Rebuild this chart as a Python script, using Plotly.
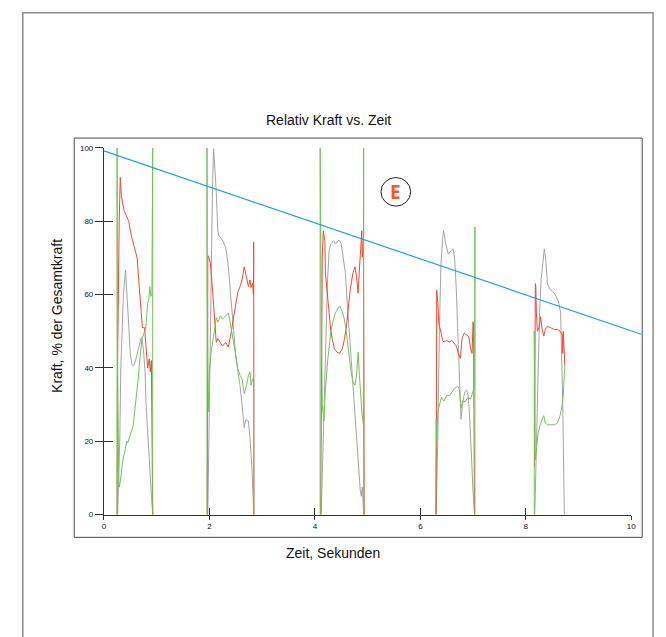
import plotly.graph_objects as go

# ---------------- data (None separates the five steps) ----------------
t_red = [0.25, 0.255, 0.29, 0.31, 0.33, 0.38, 0.44, 0.47, 0.52, 0.58, 0.63, 0.67, 0.70, 0.73, 0.77, 0.81, 0.83, 0.86, 0.88, 0.90, 0.915, 0.925, None,
         1.96, 1.965, 1.97, 1.99, 2.02, 2.06, 2.10, 2.13, 2.16, 2.21, 2.25, 2.31, 2.36, 2.40, 2.45, 2.50, 2.54, 2.58, 2.62, 2.66, 2.69, 2.74, 2.77, 2.79, 2.82, 2.835, 2.84, 2.845, None,
         4.11, 4.12, 4.14, 4.16, 4.19, 4.20, 4.24, 4.27, 4.30, 4.33, 4.37, 4.42, 4.47, 4.52, 4.56, 4.60, 4.64, 4.67, 4.72, 4.76, 4.79, 4.82, 4.84, 4.87, 4.89, 4.90, 4.92, 4.93, 4.935, None,
         6.30, 6.305, 6.31, 6.33, 6.35, 6.39, 6.42, 6.45, 6.50, 6.55, 6.60, 6.65, 6.68, 6.72, 6.76, 6.79, 6.83, 6.88, 6.92, 6.95, 6.98, 7.00, 7.01, 7.02, 7.025, None,
         8.165, 8.17, 8.18, 8.19, 8.20, 8.22, 8.25, 8.28, 8.31, 8.34, 8.37, 8.41, 8.47, 8.54, 8.60, 8.65, 8.69, 8.70, 8.71, 8.72, 8.73, 8.74]
red = [0, 36, 80, 92, 87, 83, 81, 80, 76, 73, 70, 62, 55, 51, 51, 45, 40, 42.5, 39, 42, 20, 0, None,
       0, 36, 70.7, 70, 68.5, 61.3, 54.1, 47, 48, 47, 46, 47, 45.7, 48.7, 53.2, 57.7, 60.8, 62.2, 64, 67.6, 65.8, 62.2, 64, 61.9, 63.2, 60, 74.3, 0, None,
       0, 36, 70, 77.4, 74.7, 65.8, 59.5, 55, 50.5, 47.8, 45.2, 44.3, 44, 45.2, 47.8, 51.4, 56.8, 61.3, 65.8, 67.6, 64.9, 60.4, 65.8, 72.9, 77.4, 70.2, 74.7, 40, 0, None,
       0, 40, 61.2, 58, 52, 49.8, 47.5, 47.1, 47.5, 47.1, 47.5, 46.5, 46, 44, 42.6, 48, 49.5, 49, 48.5, 45.5, 44, 52.6, 50, 18, 0, None,
       13, 25, 63, 62, 55, 50, 51, 54, 50.5, 48.7, 50.5, 51.3, 51, 50.5, 50.5, 50, 49, 44, 50, 45, 41, 40.7]

t_gray = [0.26, 0.28, 0.30, 0.32, 0.34, 0.37, 0.41, 0.44, 0.47, 0.50, 0.53, 0.56, 0.59, 0.63, 0.66, 0.70, 0.72, 0.75, 0.78, 0.80, 0.83, 0.86, 0.88, 0.91, 0.93, None,
          1.97, 1.99, 2.00, 2.03, 2.06, 2.08, 2.10, 2.13, 2.16, 2.18, 2.21, 2.25, 2.31, 2.36, 2.40, 2.45, 2.50, 2.54, 2.58, 2.62, 2.66, 2.69, 2.74, 2.77, 2.81, 2.84, None,
          4.12, 4.14, 4.17, 4.20, 4.24, 4.27, 4.30, 4.35, 4.39, 4.44, 4.47, 4.50, 4.53, 4.58, 4.61, 4.64, 4.67, 4.71, 4.75, 4.79, 4.83, 4.86, 4.88, 4.90, 4.92, 4.93, None,
          6.30, 6.33, 6.36, 6.39, 6.42, 6.44, 6.48, 6.53, 6.58, 6.62, 6.65, 6.68, 6.71, 6.74, 6.77, 6.80, 6.84, 6.88, 6.91, 6.94, 6.97, 7.00, 7.03, None,
          8.17, 8.20, 8.23, 8.26, 8.29, 8.32, 8.35, 8.38, 8.41, 8.45, 8.50, 8.56, 8.62, 8.66, 8.70, 8.73]
gray = [0, 8, 20, 40, 51, 60, 66.7, 60, 51, 44, 41, 40.5, 41.5, 43.5, 45.5, 48, 48.3, 45, 39, 30, 22.8, 14, 8.4, 3, 0, None,
        0, 20, 39, 65, 90, 99.8, 96, 88, 77.4, 76, 75.6, 74.7, 72.9, 67.6, 60.4, 51.4, 43.4, 39, 35.3, 29.9, 23.7, 25.9, 25.5, 21, 12, 0, None,
        0, 12, 29.9, 47.8, 64, 72, 73.8, 74.7, 73.8, 74.7, 74.7, 73.8, 71.1, 65.8, 58.6, 52.3, 46, 39, 29.9, 21, 12, 6.7, 5, 7.5, 1.6, 0, None,
        0, 20, 50, 68, 75, 77.5, 74, 71, 72, 72.5, 70, 62, 50, 36, 26, 30, 33.5, 34, 32, 25, 15, 6, 0, None,
        0, 20, 42, 55, 64, 69, 72.5, 69, 63, 61.5, 61, 60, 58, 55, 30, 0]

t_green = [0.25, 0.25, 0.255, 0.28, 0.29, 0.31, 0.33, 0.36, 0.40, 0.43, 0.45, 0.48, 0.52, 0.55, 0.57, 0.60, 0.62, 0.65, 0.67, 0.70, 0.72, 0.76, 0.79, 0.81, 0.83, 0.85, 0.87, 0.89, 0.91, 0.925, 0.925, None,
           1.955, 1.955, 1.96, 1.98, 2.00, 2.03, 2.06, 2.10, 2.13, 2.16, 2.21, 2.25, 2.31, 2.36, 2.40, 2.45, 2.50, 2.54, 2.58, 2.62, 2.66, 2.69, 2.74, 2.77, 2.79, 2.82, 2.84, 2.84, None,
           4.10, 4.10, 4.12, 4.14, 4.17, 4.20, 4.24, 4.27, 4.30, 4.35, 4.39, 4.44, 4.47, 4.52, 4.56, 4.60, 4.64, 4.67, 4.72, 4.76, 4.79, 4.82, 4.84, 4.86, 4.89, 4.92, 4.925, 4.925, None,
           6.29, 6.30, 6.31, 6.33, 6.36, 6.40, 6.45, 6.50, 6.55, 6.60, 6.65, 6.70, 6.74, 6.77, 6.80, 6.85, 6.90, 6.95, 6.98, 7.03, 7.035, 7.035, None,
           8.16, 8.16, 8.17, 8.18, 8.20, 8.23, 8.27, 8.31, 8.34, 8.37, 8.41, 8.47, 8.54, 8.60, 8.65, 8.69, 8.71, 8.73, 8.74]
green = [0, 100, 50, 10, 7.5, 9, 12, 15, 17.4, 20, 19.5, 21, 22.8, 24, 26.3, 30, 33.5, 37, 40.7, 45, 47.8, 49.6, 50.4, 54, 57.7, 58.6, 62.2, 59.5, 60, 100, 0, None,
         0, 100, 60, 28, 39, 44, 47, 51.4, 53.7, 52.5, 54.2, 53.3, 54.2, 55, 52, 47.8, 43.4, 39.8, 38, 37, 33, 34.4, 38, 39, 35.3, 37, 37, 0, None,
         0, 100, 60, 30, 25.5, 34.4, 41.6, 46, 49.6, 53.2, 55, 56.4, 56.9, 55.4, 53.2, 49.6, 44.3, 40.7, 36.2, 35.3, 38, 44.3, 39, 33.5, 28.2, 24.6, 100, 0, None,
         0, 26, 20, 28, 30, 32, 31, 32.5, 32.5, 33.5, 34.4, 35, 34.4, 29, 31, 30.8, 32, 31.5, 33, 35, 78.5, 0, None,
         0, 50, 30, 15, 18, 22, 24.5, 26.3, 27, 25, 24.5, 24.5, 24.5, 25, 27, 30, 32.6, 38, 40.7]

trend_t = [0, 10.19]
trend = [99.2, 49.2]

x_ticks = [0, 2, 4, 6, 8, 10]
y_ticks = [0, 20, 40, 60, 80, 100]

title_text = "Relativ Kraft vs. Zeit"
x_title = "Zeit, Sekunden"
y_title = "Kraft, % der Gesamtkraft"
marker_text = "E"

# ---------------- figure ----------------
W, H = 666, 637
def px(x):
    return x / W
def py(y):
    return 1 - y / H

fig = go.Figure()
fig.add_trace(go.Scatter(x=t_gray, y=gray, mode="lines", line=dict(color="#a3a3a3", width=1), connectgaps=False, hoverinfo="skip"))
fig.add_trace(go.Scatter(x=t_red, y=red, mode="lines", line=dict(color="#ec4a32", width=1), connectgaps=False, hoverinfo="skip"))
fig.add_trace(go.Scatter(x=t_green, y=green, mode="lines", line=dict(color="#74c257", width=1), connectgaps=False, hoverinfo="skip"))
fig.add_trace(go.Scatter(x=trend_t, y=trend, mode="lines", line=dict(color="#1ea2e0", width=1.2), xaxis="x2", yaxis="y", hoverinfo="skip"))

axis_font = dict(family="Liberation Sans, Arial", size=8, color="#111")
common = dict(showgrid=False, zeroline=False, fixedrange=True)

fig.update_layout(
    width=W, height=H,
    margin=dict(l=0, r=0, t=0, b=0),
    paper_bgcolor="white",
    plot_bgcolor="rgba(0,0,0,0)",
    showlegend=False,
    xaxis=dict(domain=[px(103), px(636)], range=[0, 10], tickvals=x_ticks, ticktext=[str(v) for v in x_ticks],
               ticks="outside", ticklen=4, tickwidth=1, tickcolor="#333", showline=True, linecolor="#333", linewidth=1,
               tickfont=axis_font, anchor="y", **common),
    xaxis3=dict(overlaying="x", range=[0, 10], tickvals=x_ticks, ticks="inside", ticklen=7, tickwidth=1, tickcolor="#333",
                showticklabels=False, showline=False, anchor="y", side="bottom", **common),
    xaxis2=dict(domain=[px(103), px(646)], range=[0, 10.19], visible=False, anchor="y", **common),
    yaxis=dict(domain=[py(518), py(146)], range=[0, 100], tickvals=y_ticks, ticktext=[str(v) for v in y_ticks],
               ticks="outside", ticklen=8, tickwidth=1, tickcolor="#333", showline=True, linecolor="#333", linewidth=1,
               tickfont=axis_font, anchor="x", **common),
    yaxis3=dict(overlaying="y", range=[0, 100], tickvals=y_ticks, ticks="inside", ticklen=9, tickwidth=1, tickcolor="#333",
                showticklabels=False, showline=False, anchor="x", side="left", **common),
)

# dummy invisible traces so overlay axes get drawn
fig.add_trace(go.Scatter(x=[None], y=[None], xaxis="x3", yaxis="y", showlegend=False, hoverinfo="skip"))
fig.add_trace(go.Scatter(x=[None], y=[None], xaxis="x", yaxis="y3", showlegend=False, hoverinfo="skip"))

shapes = [
    dict(type="rect", xref="paper", yref="paper", x0=px(21), x1=px(658), y0=py(660), y1=py(9),
         line=dict(color="#8c8c8c", width=1.5), layer="below"),
    dict(type="rect", xref="paper", yref="paper", x0=px(73), x1=px(647), y0=py(541), y1=py(136),
         line=dict(color="#4a4a4a", width=1), layer="below"),
    dict(type="circle", xref="paper", yref="paper", x0=px(383), x1=px(413), y0=py(205), y1=py(176),
         line=dict(color="#222", width=1)),
]
fig.update_layout(shapes=shapes)

label_font = dict(family="Liberation Sans, Arial", size=14, color="#111")
fig.add_annotation(text=title_text, x=px(330), y=py(118), xref="paper", yref="paper", showarrow=False,
                   xanchor="center", yanchor="middle", font=label_font)
fig.add_annotation(text=x_title, x=px(335), y=py(557), xref="paper", yref="paper", showarrow=False,
                   xanchor="center", yanchor="middle", font=label_font)
fig.add_annotation(text=y_title, x=px(55), y=py(316), xref="paper", yref="paper", showarrow=False,
                   xanchor="center", yanchor="middle", textangle=-90, font=label_font)
fig.add_annotation(text="<b>" + marker_text + "</b>", x=px(398), y=py(190.5), xref="paper", yref="paper", showarrow=False,
                   xanchor="center", yanchor="middle",
                   font=dict(family="Open Sans, Liberation Sans", size=19, color="#f15a24"))

fig.write_html("out.html")
